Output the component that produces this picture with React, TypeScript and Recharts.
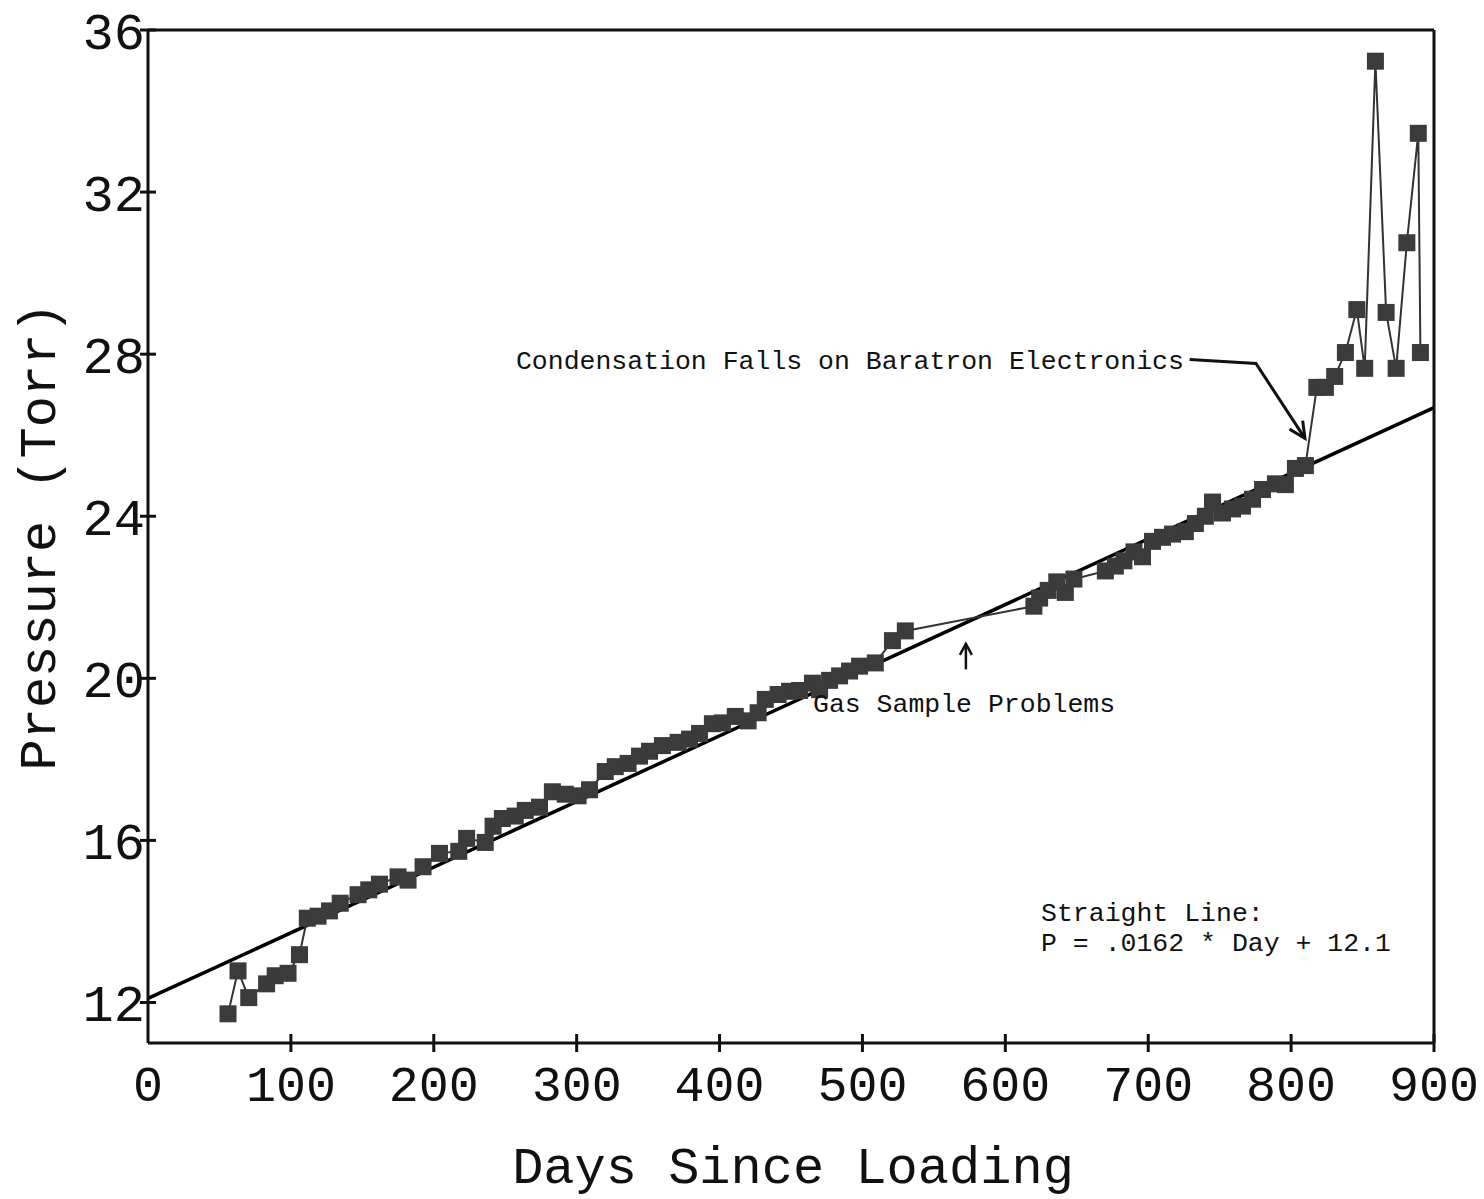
import React from "react";
import { ComposedChart, Line, XAxis, YAxis, ReferenceDot, Label } from "recharts";

// days since loading / measured pressure (Torr)
const days = [
  56, 63, 70.5, 83, 89, 98, 106, 111.5, 119, 127, 134.5, 147, 154.5, 162, 175, 182, 192.5,
  204, 217.5, 223, 236, 241.5, 248, 257, 264, 274, 283, 292, 301, 309, 320, 327, 336, 344,
  351, 360, 371, 379, 386, 395, 402, 411, 420, 427, 432, 441, 449, 456, 465, 470, 477, 484,
  491, 498, 509, 521, 530, 620, 624, 630, 636, 642, 648, 670, 677, 683, 690, 696, 703, 710,
  717, 726, 733, 740, 745, 752, 759, 766, 773, 780, 789, 796, 803, 810, 818, 824, 830.5,
  838, 846, 851.5, 859, 866.5, 873.5, 881, 889, 890.5
];
const pressures = [
  11.72, 12.78, 12.12, 12.46, 12.66, 12.72, 13.18, 14.08, 14.13, 14.26, 14.45, 14.66, 14.78,
  14.92, 15.1, 15.02, 15.35, 15.68, 15.73, 16.05, 15.95, 16.35, 16.54, 16.6, 16.74, 16.82,
  17.2, 17.14, 17.1, 17.25, 17.7, 17.82, 17.9, 18.08, 18.2, 18.34, 18.42, 18.5, 18.64, 18.88,
  18.9, 19.06, 18.95, 19.15, 19.48, 19.6, 19.68, 19.7, 19.88, 19.72, 19.95, 20.06, 20.18,
  20.3, 20.38, 20.93, 21.17, 21.78, 21.98, 22.17, 22.38, 22.12, 22.45, 22.65, 22.77, 22.9,
  23.12, 23.0, 23.38, 23.48, 23.56, 23.62, 23.82, 24.0, 24.35, 24.08, 24.18, 24.25, 24.42,
  24.66, 24.8, 24.78, 25.18, 25.25, 27.18, 27.18, 27.45, 28.04, 29.1, 27.65, 35.23, 29.03,
  27.65, 30.75, 33.45, 28.04
];

// straight-line fit endpoints (P = .0162 * Day + 12.1)
const fitDays = [0, 900];
const fitPressures = [12.1, 26.68];

// annotation arrows
const condArrowDays = [729, 775.4, 809.7];
const condArrowP = [27.87, 27.77, 25.92];
const gasArrowDays = [572.4, 572.4];
const gasArrowP = [20.22, 20.85];

const xTicks = [0, 100, 200, 300, 400, 500, 600, 700, 800, 900];
const yTicks = [12, 16, 20, 24, 28, 32, 36];

const W = 1484;
const H = 1199;
const AX = 1; // thickness reserved by each axis
const M = { top: 30 - AX, right: 50 - AX, bottom: 156 - AX, left: 148 - AX };
const PLOT_LEFT = 148;
const PLOT_RIGHT = W - 50;
const PLOT_TOP = 30;
const PLOT_BOTTOM = H - 156;
const FONT = "'Liberation Mono', 'Courier New', monospace";
const INK = "#111";

const measured = days.map((d, i) => ({ day: d, p: pressures[i] }));
const fit = fitDays.map((d, i) => ({ day: d, p: fitPressures[i] }));
const condArrow = condArrowDays.map((d, i) => ({ day: d, p: condArrowP[i] }));
const gasArrow = gasArrowDays.map((d, i) => ({ day: d, p: gasArrowP[i] }));

const SquareDot = (props: any) => {
  const { cx, cy, index } = props;
  if (cx == null || cy == null) return null;
  return <rect key={index} x={cx - 8.5} y={cy - 8.5} width={17} height={17} fill="#3b3b3b" />;
};

const BottomTick = (props: any) => {
  const { x, payload } = props;
  return (
    <g>
      {payload.value !== 0 && (
        <line x1={x} x2={x} y1={PLOT_BOTTOM - 9} y2={PLOT_BOTTOM + 9} stroke={INK} strokeWidth={3} />
      )}
      <text x={x} y={PLOT_BOTTOM + 58} textAnchor="middle" fontFamily={FONT} fontSize={50} fill={INK}>
        {payload.value}
      </text>
    </g>
  );
};

const TopTick = (props: any) => {
  const { x, payload } = props;
  if (payload.value === 0 || payload.value === 900) return <g />;
  return <line x1={x} x2={x} y1={PLOT_TOP - 8} y2={PLOT_TOP + 10} stroke={INK} strokeWidth={3} />;
};

const LeftTick = (props: any) => {
  const { y, payload } = props;
  return (
    <g>
      <line x1={PLOT_LEFT - 8} x2={PLOT_LEFT + 8} y1={y} y2={y} stroke={INK} strokeWidth={3} />
      <text x={PLOT_LEFT - 3} y={y} dy="0.36em" textAnchor="end" fontFamily={FONT} fontSize={52} fill={INK}>
        {payload.value}
      </text>
    </g>
  );
};

const RightTick = (props: any) => {
  const { y, payload } = props;
  if (payload.value === 36) return <g />;
  return <line x1={PLOT_RIGHT - 12} x2={PLOT_RIGHT + 8} y1={y} y2={y} stroke={INK} strokeWidth={3} />;
};

const note = (text: string, size = 26.5) => (p: any) => (
  <text x={p.cx} y={p.cy} dy="0.35em" fontFamily={FONT} fontSize={size} fill={INK}>
    {text}
  </text>
);

const upHead = (p: any) => (
  <polyline
    points={`${p.cx - 6},${p.cy + 11} ${p.cx},${p.cy} ${p.cx + 6},${p.cy + 11}`}
    fill="none"
    stroke={INK}
    strokeWidth={2.5}
  />
);

const slantHead = (p: any) => {
  // arrow heading down-right, along the last arrow segment
  const ang = Math.atan2(75, 49);
  const len = 18;
  const a1 = ang + Math.PI - 0.45;
  const a2 = ang + Math.PI + 0.45;
  return (
    <polyline
      points={`${p.cx + len * Math.cos(a1)},${p.cy + len * Math.sin(a1)} ${p.cx},${p.cy} ${p.cx + len * Math.cos(a2)},${p.cy + len * Math.sin(a2)}`}
      fill="none"
      stroke={INK}
      strokeWidth={3}
    />
  );
};

export default function App() {
  return (
    <div style={{ position: "absolute", left: 0, top: 0, background: "#fff" }}>
      <ComposedChart width={W} height={H} margin={M}>
        <XAxis
          type="number"
          dataKey="day"
          domain={[0, 900]}
          ticks={xTicks}
          interval={0}
          height={AX}
          axisLine={{ stroke: INK, strokeWidth: 3 }}
          tickLine={false}
          tick={BottomTick}
        >
          <Label
            content={() => (
              <text
                x={(PLOT_LEFT + PLOT_RIGHT) / 2 + 2}
                y={PLOT_BOTTOM + 140}
                textAnchor="middle"
                fontFamily={FONT}
                fontSize={52}
                fill={INK}
              >
                Days Since Loading
              </text>
            )}
          />
        </XAxis>
        <XAxis
          xAxisId="top"
          orientation="top"
          type="number"
          dataKey="day"
          domain={[0, 900]}
          ticks={xTicks}
          interval={0}
          height={AX}
          axisLine={{ stroke: INK, strokeWidth: 3 }}
          tickLine={false}
          tick={TopTick}
        />
        <YAxis
          type="number"
          domain={[11, 36]}
          ticks={yTicks}
          interval={0}
          width={AX}
          axisLine={{ stroke: INK, strokeWidth: 3 }}
          tickLine={false}
          tick={LeftTick}
        >
          <Label
            content={() => (
              <text
                x={37}
                y={(PLOT_TOP + PLOT_BOTTOM) / 2}
                transform={`rotate(-90 37 ${(PLOT_TOP + PLOT_BOTTOM) / 2})`}
                dy="0.35em"
                textAnchor="middle"
                fontFamily={FONT}
                fontSize={52}
                fill={INK}
              >
                Pressure (Torr)
              </text>
            )}
          />
        </YAxis>
        <YAxis
          yAxisId="right"
          orientation="right"
          type="number"
          domain={[11, 36]}
          ticks={yTicks}
          interval={0}
          width={AX}
          axisLine={{ stroke: INK, strokeWidth: 3 }}
          tickLine={false}
          tick={RightTick}
        />

        <Line
          data={fit}
          dataKey="p"
          type="linear"
          stroke="#000"
          strokeWidth={3.5}
          dot={false}
          activeDot={false}
          isAnimationActive={false}
        />
        <Line
          data={measured}
          dataKey="p"
          type="linear"
          stroke="#333"
          strokeWidth={2}
          dot={SquareDot}
          activeDot={false}
          isAnimationActive={false}
        />
        <Line
          data={condArrow}
          dataKey="p"
          type="linear"
          stroke={INK}
          strokeWidth={3}
          dot={false}
          activeDot={false}
          isAnimationActive={false}
        />
        <Line
          data={gasArrow}
          dataKey="p"
          type="linear"
          stroke={INK}
          strokeWidth={2.5}
          dot={false}
          activeDot={false}
          isAnimationActive={false}
        />

        <ReferenceDot x={809.7} y={25.92} r={0} shape={slantHead} />
        <ReferenceDot x={572.4} y={20.85} r={0} shape={upHead} />
        <ReferenceDot x={257.5} y={27.87} r={0} shape={note("Condensation Falls on Baratron Electronics")} />
        <ReferenceDot x={465.4} y={19.4} r={0} shape={note("Gas Sample Problems")} />
        <ReferenceDot x={625} y={14.23} r={0} shape={note("Straight Line:")} />
        <ReferenceDot x={625} y={13.49} r={0} shape={note("P = .0162 * Day + 12.1")} />
      </ComposedChart>
    </div>
  );
}
